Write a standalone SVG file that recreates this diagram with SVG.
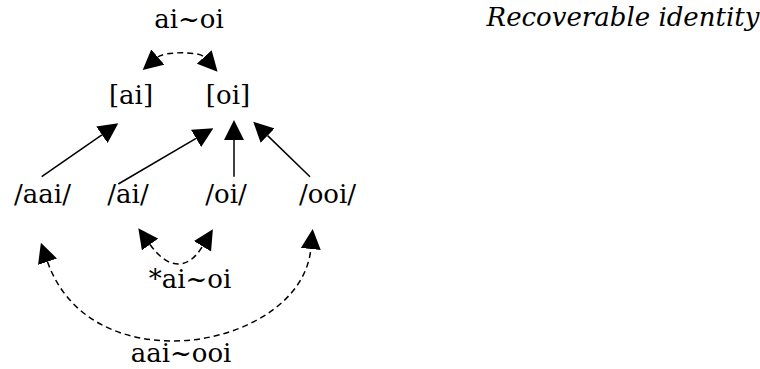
<svg xmlns="http://www.w3.org/2000/svg" width="760" height="369" viewBox="0 0 760 369">
  <defs>
    <style>
      text { font-family: 'DejaVu Serif', serif; font-size: 26px; fill: #000; text-anchor: middle; }
      .note { font-style: italic; }
      .edge { fill: none; stroke: #000; stroke-width: 1.5; }
      .dash { stroke-dasharray: 6 4; }
    </style>
    <marker id="head" viewBox="0 0 20 20" refX="0" refY="10" markerWidth="20" markerHeight="20" markerUnits="userSpaceOnUse" orient="auto-start-reverse">
      <path d="M0,0 L20,10 L0,20 z" fill="#000"/>
    </marker>
  </defs>

  <g id="nodes">
    <g id="n-alt-top"><text x="189" y="28">ai~oi</text></g>
    <g id="n-note"><text class="note" x="623" y="26">Recoverable identity</text></g>
    <g id="n-ai-surface"><text x="131" y="104">[ai]</text></g>
    <g id="n-oi-surface"><text x="228" y="104">[oi]</text></g>
    <g id="n-aai"><text x="42.5" y="203">/aai/</text></g>
    <g id="n-ai"><text x="128" y="203">/ai/</text></g>
    <g id="n-oi"><text x="226" y="203">/oi/</text></g>
    <g id="n-ooi"><text x="327.5" y="203">/ooi/</text></g>
    <g id="n-alt-star"><text x="190" y="288">*ai~oi</text></g>
    <g id="n-alt-bottom"><text x="181" y="362">aai~ooi</text></g>
  </g>

  <g id="connectors">
    <!-- solid arrows: underlying forms to surface forms -->
    <line class="edge" x1="41.7" y1="176.7" x2="101.9" y2="134.8" marker-end="url(#head)"/>
    <line class="edge" x1="118.3" y1="184" x2="196.1" y2="138.4" marker-end="url(#head)"/>
    <line class="edge" x1="234" y1="176.7" x2="234" y2="140" marker-end="url(#head)"/>
    <line class="edge" x1="310" y1="176.7" x2="267.6" y2="135.6" marker-end="url(#head)"/>
    <!-- dashed alternations -->
    <path class="edge dash" d="M157.8,57 C163.9,51.7 198.8,51 204.2,57" marker-start="url(#head)" marker-end="url(#head)"/>
    <path class="edge dash" d="M150,244.5 C167.4,268.7 187,271.8 202.5,246.3" marker-start="url(#head)" marker-end="url(#head)"/>
    <path class="edge dash" d="M47.5,261.7 C91.7,387.7 301.3,348.5 310.8,249" marker-start="url(#head)" marker-end="url(#head)"/>
  </g>
</svg>
